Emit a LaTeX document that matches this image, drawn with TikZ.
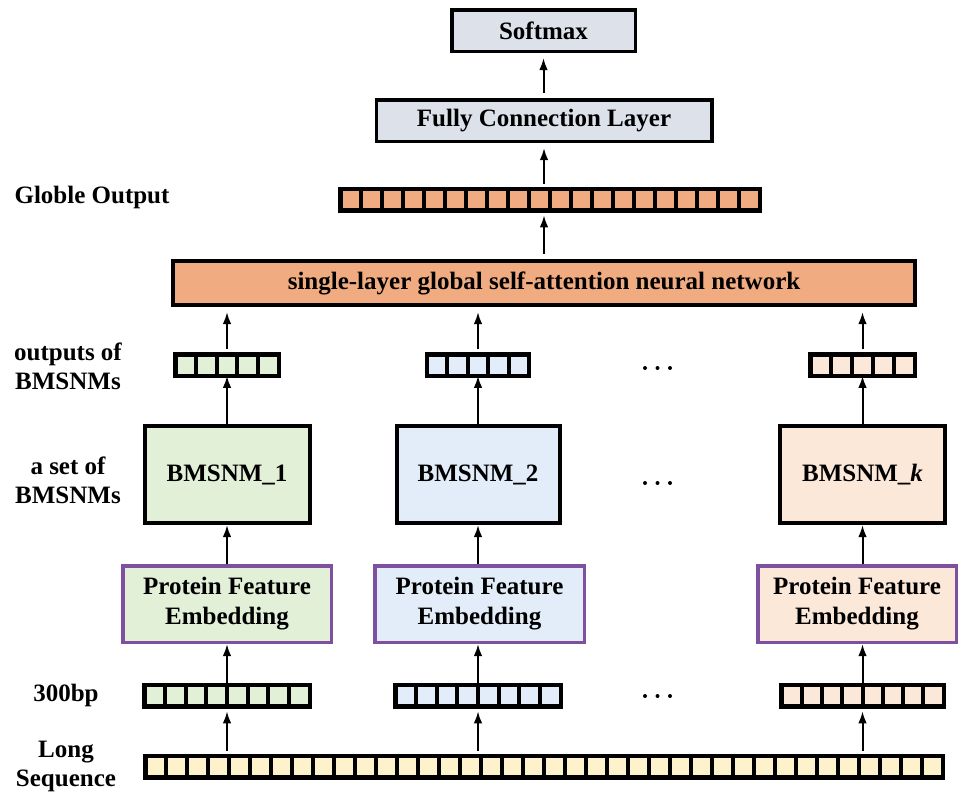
\documentclass[tikz,border=0pt]{standalone}
\usepackage{fontspec}
\setmainfont{Liberation Serif}
\usetikzlibrary{arrows.meta,calc}
\definecolor{greybox}{RGB}{221,225,233}
\definecolor{attn}{RGB}{240,172,128}
\definecolor{greencell}{RGB}{227,240,216}
\definecolor{bluecell}{RGB}{226,237,249}
\definecolor{peachcell}{RGB}{251,232,217}
\definecolor{seqcell}{RGB}{253,242,204}
\definecolor{embedline}{RGB}{128,80,160}
\newcommand{\vecrow}[5]{% name, centre, cells, width, colour
  \node[vecbox,fill=#5,minimum width=#4] (#1) at #2 {};
  \pgfmathtruncatemacro{\lastcell}{#3-1}
  \foreach \i in {1,...,\lastcell}
    \draw[cellline] ($(#1.north west)!\i/#3!(#1.north east)$) -- ($(#1.south west)!\i/#3!(#1.south east)$);
}
\begin{document}
\begin{tikzpicture}[x=1pt,y=-1pt,
    font=\fontsize{25}{29}\selectfont\bfseries,
    layerbox/.style={draw,line width=3.5pt,fill=greybox,minimum height=41.5pt,inner sep=0pt},
    bmbox/.style={draw,line width=4pt,minimum height=97pt,inner sep=0pt},
    embedbox/.style={draw=embedline,line width=3.5pt,minimum height=76.5pt,inner sep=0pt,align=center,
      font=\fontsize{25}{30}\selectfont\bfseries},
    vecbox/.style={draw,line width=4.5pt,minimum height=21.5pt,inner sep=0pt,outer sep=0pt},
    cellline/.style={line width=4pt},
    sidetext/.style={align=center,inner sep=0pt},
    uparrow/.style={-{Latex[length=12pt,width=8.5pt]},line width=2pt},
    gaparrow/.style={uparrow,shorten >=5pt,shorten <=5pt}]
  \useasboundingbox (0,0) rectangle (960,796);
  \node[layerbox,minimum width=183.5pt] (soft) at (543.5,30.5) {Softmax};
  \node[layerbox,minimum width=335.5pt] (fc) at (544,120.5) {Fully Connection Layer};
  \vecrow{gout}{(550,199.5)}{20}{419.5pt}{attn}
  \node[draw,line width=4pt,fill=attn,minimum width=742pt,minimum height=44pt,inner sep=0pt] (att) at (544,283)
    {single-layer global self-attention neural network};
  \vecrow{o1}{(227,365)}{5}{103.5pt}{greencell}
  \vecrow{o2}{(478,365)}{5}{102pt}{bluecell}
  \vecrow{o3}{(862.5,365)}{5}{104.5pt}{peachcell}
  \node[bmbox,fill=greencell,minimum width=165pt] (b1) at (227,474.5) {BMSNM\_1};
  \node[bmbox,fill=bluecell,minimum width=163pt] (b2) at (478,474.5) {BMSNM\_2};
  \node[bmbox,fill=peachcell,minimum width=165pt] (b3) at (862.5,474.5) {BMSNM\_\textit{k}};
  \node[embedbox,fill=greencell,minimum width=208.5pt] (p1) at (227,604) {Protein Feature\\Embedding};
  \node[embedbox,fill=bluecell,minimum width=209.5pt] (p2) at (479.5,604) {Protein Feature\\Embedding};
  \node[embedbox,fill=peachcell,minimum width=198.5pt] (p3) at (857,604) {Protein Feature\\Embedding};
  \vecrow{r1}{(227,695.5)}{8}{165.5pt}{greencell}
  \vecrow{r2}{(478,695.5)}{8}{165.5pt}{bluecell}
  \vecrow{r3}{(862.5,695.5)}{8}{162.5pt}{peachcell}
  \vecrow{seq}{(544,766.5)}{38}{797.5pt}{seqcell}
  \foreach \y in {368,483,696}
    \foreach \x in {645,657.5,670}
      \fill (\x,\y) circle (2pt);
  \node[sidetext] (lglob) at (92,197) {Globle Output};
  \node[sidetext] (lout) at (68,366) {outputs of\\BMSNMs};
  \node[sidetext] (lset) at (68,480) {a set of\\BMSNMs};
  \node[sidetext] (lbp) at (66,695) {300bp};
  \node[sidetext] (lseq) at (66,766) {Long\\Sequence};
  \draw[gaparrow] (soft.south |- fc.north) -- (soft.south);
  \draw[gaparrow] (fc.south |- gout.north) -- (fc.south);
  \draw[gaparrow] (att.north) -- (att.north |- gout.south);
  \draw[gaparrow] (o1.north) -- (o1.north |- att.south);
  \draw[gaparrow] (o2.north) -- (o2.north |- att.south);
  \draw[gaparrow] (o3.north) -- (o3.north |- att.south);
  \draw[uparrow] (b1.north) -- (o1.south);
  \draw[uparrow] (b2.north) -- (o2.south);
  \draw[uparrow] (b3.north) -- (o3.south);
  \draw[uparrow] (b1.south |- p1.north) -- (b1.south);
  \draw[uparrow] (b2.south |- p2.north) -- (b2.south);
  \draw[uparrow] (b3.south |- p3.north) -- (b3.south);
  \draw[uparrow] (r1.north) -- (r1.north |- p1.south);
  \draw[uparrow] (r2.north) -- (r2.north |- p2.south);
  \draw[uparrow] (r3.north) -- (r3.north |- p3.south);
  \draw[gaparrow] (r1.south |- seq.north) -- (r1.south);
  \draw[gaparrow] (r2.south |- seq.north) -- (r2.south);
  \draw[gaparrow] (r3.south |- seq.north) -- (r3.south);
\end{tikzpicture}
\end{document}
